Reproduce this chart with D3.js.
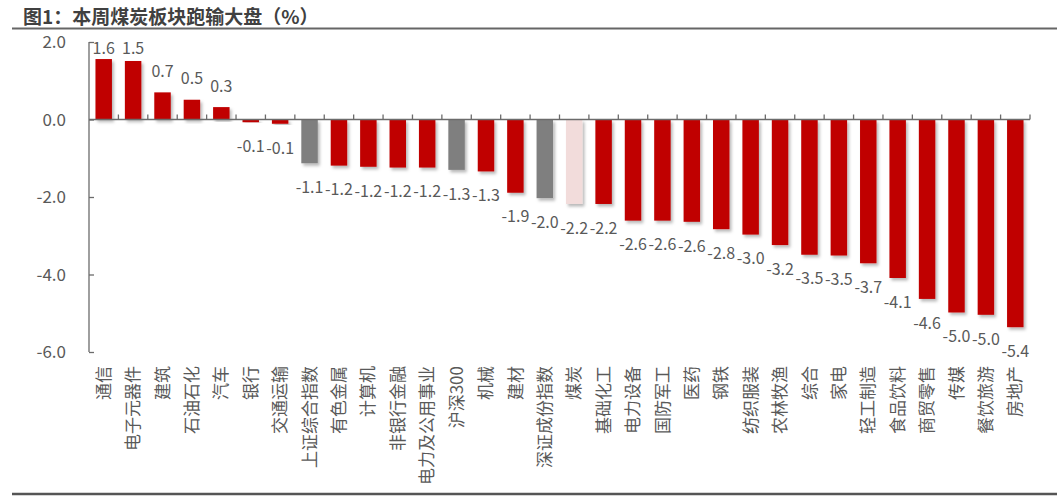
<!DOCTYPE html>
<html>
<head>
<meta charset="utf-8">
<script src="https://cdn.jsdelivr.net/npm/d3@7"></script>
<style>
  html, body { margin: 0; padding: 0; background: #fff; }
  svg { display: block; }
  text { font-family: "Microsoft YaHei", "Noto Sans CJK SC", "Noto Sans", sans-serif; }
</style>
</head>
<body>
<svg id="chart" width="1057" height="496"></svg>
<script>
const title = "图1：本周煤炭板块跑输大盘（%）";
const categories = ["通信","电子元器件","建筑","石油石化","汽车","银行","交通运输","上证综合指数","有色金属","计算机","非银行金融","电力及公用事业","沪深300","机械","建材","深证成份指数","煤炭","基础化工","电力设备","国防军工","医药","钢铁","纺织服装","农林牧渔","综合","家电","轻工制造","食品饮料","商贸零售","传媒","餐饮旅游","房地产"];
const values = [1.56,1.51,0.70,0.51,0.32,-0.07,-0.11,-1.13,-1.19,-1.22,-1.24,-1.24,-1.30,-1.34,-1.89,-2.03,-2.18,-2.18,-2.61,-2.61,-2.64,-2.83,-2.97,-3.24,-3.49,-3.51,-3.71,-4.09,-4.63,-4.98,-5.04,-5.36];
const indexCats = ["上证综合指数","沪深300","深证成份指数"];
const focusCat = "煤炭";
const yTicks = [2, 0, -2, -4, -6];

const svg = d3.select("#chart");
const W = 1057, H = 496;
const plot = {left: 89, right: 1030, top: 42, bottom: 352};

// defs: drop shadow
const defs = svg.append("defs");
const f = defs.append("filter").attr("id","shadow").attr("x","-30%").attr("y","-10%").attr("width","170%").attr("height","130%");
f.append("feDropShadow").attr("dx",2).attr("dy",2.5).attr("stdDeviation",1.6).attr("flood-color","#000").attr("flood-opacity",0.28);

// title
svg.append("text").attr("x", 23).attr("y", 24)
  .attr("font-size", 19).attr("font-weight", "bold").attr("fill", "#404040")
  .text(title);
svg.append("line").attr("x1", 12).attr("x2", W).attr("y1", 28.5).attr("y2", 28.5)
  .attr("stroke", "#666").attr("stroke-width", 2);
svg.append("line").attr("x1", 12).attr("x2", W).attr("y1", 494).attr("y2", 494)
  .attr("stroke", "#555").attr("stroke-width", 2.5);

const x = d3.scaleBand().domain(categories).range([plot.left, plot.right]).paddingInner(0.44).paddingOuter(0.22);
const y = d3.scaleLinear().domain([-6, 2]).range([plot.bottom, plot.top]);

const colorOf = c => indexCats.includes(c) ? "#7f7f7f" : (c === focusCat ? "#f2dcdb" : "#c00000");

// bars
svg.append("g").selectAll("rect").data(categories).join("rect")
  .attr("x", c => x(c))
  .attr("width", x.bandwidth())
  .attr("y", (c,i) => y(Math.max(0, values[i])))
  .attr("height", (c,i) => Math.abs(y(values[i]) - y(0)))
  .attr("fill", c => colorOf(c))
  .attr("filter", "url(#shadow)");

// y axis
const axisColor = "#6b6b6b";
const yAxis = d3.axisRight(y).tickValues(yTicks).tickSize(5).tickFormat("");
const yg = svg.append("g").attr("transform", `translate(${plot.left},0)`).call(yAxis);
yg.select(".domain").attr("stroke", axisColor).attr("stroke-width", 1.3).attr("d", `M0,${plot.top}V${plot.bottom}`);
yg.selectAll(".tick line").attr("stroke", axisColor).attr("stroke-width", 1.3);
svg.append("g").selectAll("text").data(yTicks).join("text")
  .attr("x", 66).attr("y", d => y(d)).attr("dy", "0.36em")
  .attr("text-anchor", "end").attr("font-size", 17).attr("fill", "#595959")
  .text(d => d.toFixed(1));

// x axis at zero with ticks between categories
const step = x.step();
const bounds = d3.range(categories.length + 1).map(i => plot.left + i * (plot.right - plot.left) / categories.length);
const xg = svg.append("g");
xg.append("line").attr("x1", plot.left).attr("x2", plot.right).attr("y1", y(0)).attr("y2", y(0))
  .attr("stroke", axisColor).attr("stroke-width", 1.3);
xg.selectAll("line.t").data(bounds.slice(1)).join("line").attr("class","t")
  .attr("x1", d => d).attr("x2", d => d).attr("y1", y(0)).attr("y2", y(0) - 5)
  .attr("stroke", axisColor).attr("stroke-width", 1.3);

// value labels
svg.append("g").selectAll("text").data(categories).join("text")
  .attr("x", c => x(c) + x.bandwidth() / 2)
  .attr("y", (c,i) => values[i] >= 0 ? Math.max(48, y(values[i]) - 21) : y(values[i]) + 24)
  .attr("dy", "0.36em")
  .attr("text-anchor", "middle").attr("font-size", 16).attr("fill", "#595959")
  .text((c,i) => values[i].toFixed(1));

// category labels (rotated)
svg.append("g").selectAll("text").data(categories).join("text")
  .attr("transform", c => `translate(${x(c) + x.bandwidth() / 2},366) rotate(-90)`)
  .attr("text-anchor", "end").attr("dy", "0.36em")
  .attr("font-size", 17).attr("fill", "#595959")
  .text(c => c);
</script>
</body>
</html>
